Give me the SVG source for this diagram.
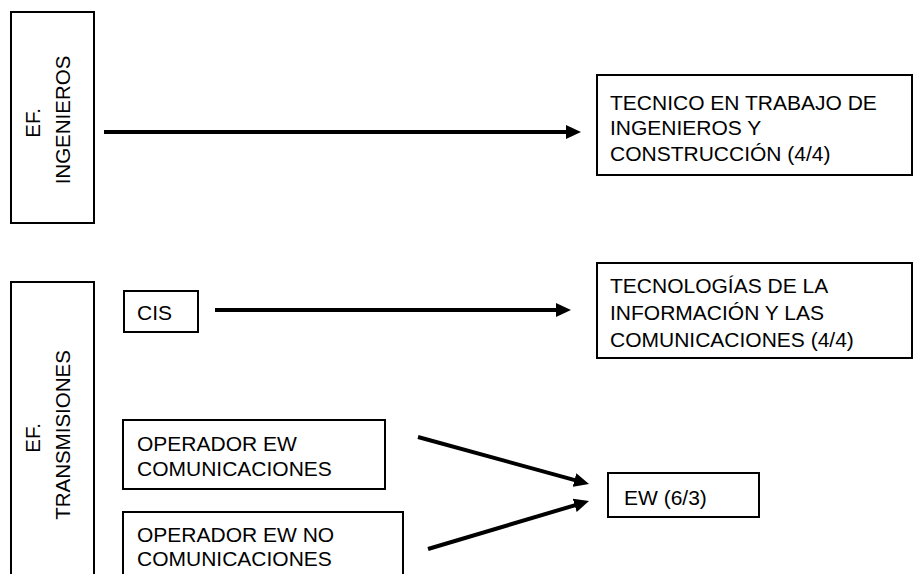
<svg xmlns="http://www.w3.org/2000/svg" width="914" height="574" viewBox="0 0 914 574">
  <style>
    .box { fill: #ffffff; stroke: #000000; stroke-width: 2; }
    .lbl { font-family: "Liberation Sans", Arial, sans-serif; font-size: 21px; fill: #000000; }
    .rot { font-size: 20.5px; text-anchor: middle; }
    .edge { stroke: #000000; stroke-width: 4; fill: none; marker-end: url(#head); }
  </style>
  <defs>
    <marker id="head" markerUnits="userSpaceOnUse" markerWidth="15" markerHeight="14" refX="6" refY="7" orient="auto" viewBox="0 0 15 14">
      <path d="M0,0 L15,7 L0,14 Z" fill="#000000"/>
    </marker>
  </defs>

  <rect width="914" height="574" fill="#ffffff"/>

  <!-- EF. INGENIEROS -->
  <g id="ef-ingenieros">
    <rect class="box" x="11" y="12" width="83" height="211"/>
    <text class="lbl rot" transform="translate(40,120) rotate(-90)">
      <tspan x="0" y="0">EF.</tspan>
      <tspan x="0" y="30">INGENIEROS</tspan>
    </text>
  </g>

  <!-- Técnico en trabajo de ingenieros -->
  <g id="tecnico-ingenieros">
    <rect class="box" x="597" y="75" width="315" height="100"/>
    <text class="lbl">
      <tspan x="610" y="110">TECNICO EN TRABAJO DE</tspan>
      <tspan x="610" y="135">INGENIEROS Y</tspan>
      <tspan x="610" y="161">CONSTRUCCIÓN (4/4)</tspan>
    </text>
  </g>

  <!-- EF. TRANSMISIONES -->
  <g id="ef-transmisiones">
    <rect class="box" x="11" y="282" width="83" height="300"/>
    <text class="lbl rot" transform="translate(40,435) rotate(-90)">
      <tspan x="0" y="0">EF.</tspan>
      <tspan x="0" y="30">TRANSMISIONES</tspan>
    </text>
  </g>

  <!-- CIS -->
  <g id="cis">
    <rect class="box" x="124" y="291" width="74" height="41"/>
    <text class="lbl" x="137" y="320">CIS</text>
  </g>

  <!-- Tecnologías de la información -->
  <g id="tic">
    <rect class="box" x="597" y="263" width="315" height="95"/>
    <text class="lbl">
      <tspan x="610" y="293">TECNOLOGÍAS DE LA</tspan>
      <tspan x="610" y="320">INFORMACIÓN Y LAS</tspan>
      <tspan x="610" y="347">COMUNICACIONES (4/4)</tspan>
    </text>
  </g>

  <!-- Operador EW comunicaciones -->
  <g id="op-ew-com">
    <rect class="box" x="123" y="420" width="262" height="69"/>
    <text class="lbl">
      <tspan x="137" y="451">OPERADOR EW</tspan>
      <tspan x="137" y="476">COMUNICACIONES</tspan>
    </text>
  </g>

  <!-- Operador EW no comunicaciones -->
  <g id="op-ew-nocom">
    <rect class="box" x="123" y="512" width="280" height="80"/>
    <text class="lbl">
      <tspan x="137" y="542">OPERADOR EW NO</tspan>
      <tspan x="137" y="566">COMUNICACIONES</tspan>
    </text>
  </g>

  <!-- EW -->
  <g id="ew">
    <rect class="box" x="608" y="473" width="151" height="44"/>
    <text class="lbl" x="624" y="505">EW (6/3)</text>
  </g>

  <!-- Connectors -->
  <g id="connectors">
    <line class="edge" x1="104" y1="132" x2="572" y2="132"/>
    <line class="edge" x1="215" y1="310" x2="562" y2="310"/>
    <line class="edge" x1="418" y1="437" x2="580.3" y2="481.6"/>
    <line class="edge" x1="428" y1="549" x2="580.4" y2="503.6"/>
  </g>
</svg>
